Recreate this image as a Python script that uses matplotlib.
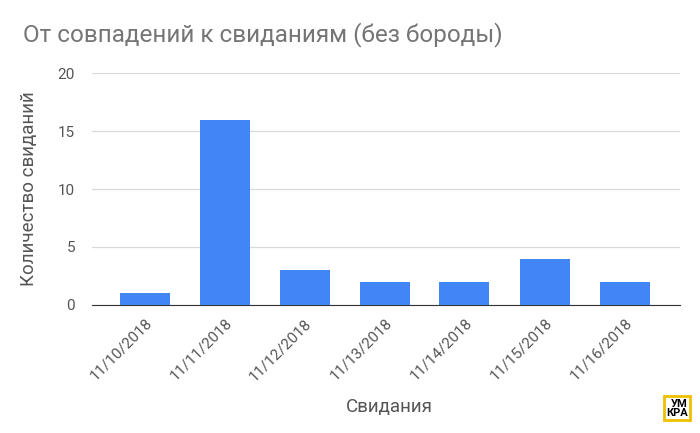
import matplotlib
matplotlib.use("Agg")
import matplotlib.pyplot as plt

plt.rcParams['font.family'] = ['Roboto', 'DejaVu Sans']

dates = ["11/10/2018", "11/11/2018", "11/12/2018", "11/13/2018", "11/14/2018", "11/15/2018", "11/16/2018"]
counts = [1, 16, 3, 2, 2, 4, 2]
yticks = [0, 5, 10, 15, 20]

fig = plt.figure(figsize=(7, 4.33), dpi=100)
ax = fig.add_axes([0.131, 0.296, 0.84, 0.535])
x = range(len(dates))
ax.bar(x, counts, width=0.625, color="#4285F4", zorder=3)
ax.set_xlim(-0.66, len(dates) - 1 + 0.69)
ax.set_ylim(0, 20)
ax.set_yticks(yticks)
ax.set_xticks(list(x))
ax.set_xticklabels(dates, rotation=45, ha="right", rotation_mode="anchor")
ax.tick_params(axis="both", length=0, colors="#555555", labelsize=11)
ax.tick_params(axis="x", pad=8)
ax.tick_params(axis="y", pad=12)
ax.grid(axis="y", color="#d9d9d9", linewidth=0.9, zorder=0)
for s in ["top", "right", "left"]:
    ax.spines[s].set_visible(False)
ax.spines["bottom"].set_color("#333333")
ax.set_ylabel("Количество свиданий", fontsize=13.5, color="#555555", labelpad=14)
fig.text(0.556, 0.06, "Свидания", fontsize=13.5, color="#555555", ha="center", va="center")
fig.text(0.033, 0.92, "От совпадений к свиданиям (без бороды)", fontsize=17.5, color="#757575", ha="left", va="center")

# logo
fig.text(0.983, 0.035, "УМ\nКРА", fontsize=8, fontweight="bold", color="black", ha="right", va="bottom",
         linespacing=0.9, bbox=dict(boxstyle="square,pad=0.2", fc="white", ec="#f0c000", lw=2))

fig.savefig("out.png", dpi=100)
